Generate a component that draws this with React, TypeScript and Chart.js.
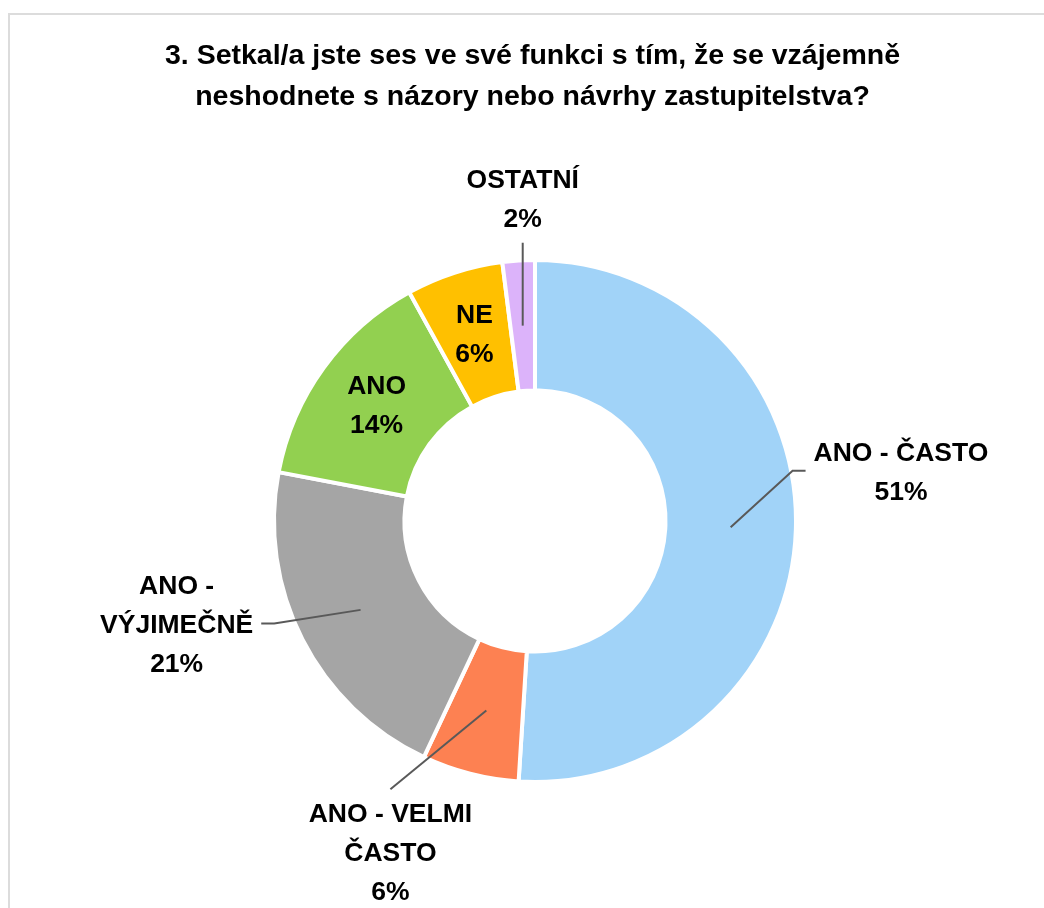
import React, { useEffect, useRef } from 'react';
import { Chart, registerables } from 'chart.js';

Chart.register(...registerables);

const titleLines = [
  '3. Setkal/a jste ses ve své funkci s tím, že se vzájemně',
  'neshodnete s názory nebo návrhy zastupitelstva?',
];

const categories = ['ANO - ČASTO', 'ANO - VELMI ČASTO', 'ANO - VÝJIMEČNĚ', 'ANO', 'NE', 'OSTATNÍ'];
const values = [51, 6, 21, 14, 6, 2];
const colors = ['#A1D3F8', '#FD8152', '#A5A5A5', '#92D050', '#FFC000', '#DCB3FA'];

// how each category name is wrapped in its data label
const labelLines = [
  ['ANO - ČASTO'],
  ['ANO - VELMI', 'ČASTO'],
  ['ANO -', 'VÝJIMEČNĚ'],
  ['ANO'],
  ['NE'],
  ['OSTATNÍ'],
];

// label placement relative to the doughnut centre, in units of the outer radius
type Placement = { kind: 'inside' | 'right' | 'left' | 'below' | 'above'; dx?: number | null; dy?: number };
const labelPlacement: Placement[] = [
  { kind: 'right', dx: 1.402, dy: -0.185 },
  { kind: 'below', dx: -0.554, dy: 1.273 },
  { kind: 'left', dx: -1.373, dy: 0.4 },
  { kind: 'inside' },
  { kind: 'inside' },
  { kind: 'above', dx: null, dy: -1.229 },
];

const FONT = '"Liberation Sans", Arial, sans-serif';

const titlePlugin = {
  id: 'wideTitle',
  afterDraw(chart: any) {
    const ctx: CanvasRenderingContext2D = chart.ctx;
    ctx.save();
    ctx.font = `bold 28.5px ${FONT}`;
    ctx.fillStyle = '#000';
    ctx.textAlign = 'center';
    ctx.textBaseline = 'middle';
    titleLines.forEach((t, k) => ctx.fillText(t, 532.5, 56 + k * 41));
    ctx.restore();
  },
};

const labelPlugin = {
  id: 'sliceLabels',
  afterDatasetsDraw(chart: any) {
    const ctx: CanvasRenderingContext2D = chart.ctx;
    const meta = chart.getDatasetMeta(0);
    const total = values.reduce((a, b) => a + b, 0);
    const LH = 39;
    ctx.save();
    ctx.font = `bold 26.5px ${FONT}`;
    ctx.textAlign = 'center';
    ctx.textBaseline = 'middle';
    meta.data.forEach((arc: any, i: number) => {
      const p = arc.getProps(['x', 'y', 'startAngle', 'endAngle', 'innerRadius', 'outerRadius'], true);
      const mid = (p.startAngle + p.endAngle) / 2;
      const rMid = (p.innerRadius + p.outerRadius) / 2;
      const ax = p.x + Math.cos(mid) * rMid;
      const ay = p.y + Math.sin(mid) * rMid;
      const lines = [...labelLines[i], Math.round((values[i] / total) * 100) + '%'];
      const place = labelPlacement[i];
      let cx = ax;
      let cy = ay;
      if (place.kind !== 'inside') {
        cx = place.dx == null ? ax : p.x + (place.dx as number) * p.outerRadius;
        cy = p.y + (place.dy as number) * p.outerRadius;
      }
      const w = Math.max(...lines.map((l) => ctx.measureText(l).width));
      const top = cy - ((lines.length - 1) * LH) / 2;
      const bottom = cy + ((lines.length - 1) * LH) / 2;
      if (place.kind !== 'inside') {
        ctx.strokeStyle = '#595959';
        ctx.lineWidth = 2;
        ctx.beginPath();
        ctx.moveTo(ax, ay);
        if (place.kind === 'right') {
          const ex = cx - w / 2 - 8;
          const ey = cy - 2;
          ctx.lineTo(ex - 13, ey);
          ctx.lineTo(ex, ey);
        } else if (place.kind === 'left') {
          const ex = cx + w / 2 + 8;
          const ey = cy - 2;
          ctx.lineTo(ex + 13, ey);
          ctx.lineTo(ex, ey);
        } else if (place.kind === 'below') {
          ctx.lineTo(cx, top - 25);
        } else if (place.kind === 'above') {
          ctx.lineTo(cx, bottom + 23);
        }
        ctx.stroke();
      }
      ctx.fillStyle = '#000';
      lines.forEach((l, k) => ctx.fillText(l, cx, top + k * LH));
    });
    ctx.restore();
  },
};

export default function App() {
  const ref = useRef<HTMLCanvasElement>(null);
  useEffect(() => {
    const chart = new Chart(ref.current as HTMLCanvasElement, {
      type: 'doughnut',
      data: {
        labels: categories,
        datasets: [
          {
            data: values,
            backgroundColor: colors,
            borderColor: '#ffffff',
            borderWidth: 4,
          },
        ],
      },
      options: {
        responsive: false,
        animation: false,
        cutout: '50%',
        layout: { padding: { left: 272, right: 246, top: 258, bottom: 124 } },
        plugins: {
          legend: { display: false },
          tooltip: { enabled: false },
          title: { display: false },
        },
      },
      plugins: [labelPlugin, titlePlugin],
    } as any);
    return () => chart.destroy();
  }, []);
  return (
    <div
      style={{
        position: 'fixed',
        left: 0,
        top: 0,
        width: 1044,
        height: 908,
        background: '#fff',
        overflow: 'hidden',
      }}
    >
      <canvas
        ref={ref}
        width={1044}
        height={908}
        style={{ position: 'absolute', left: 0, top: 0, width: 1044, height: 908 }}
      />
      <div
        style={{
          position: 'absolute',
          left: 8,
          top: 13,
          width: 1100,
          height: 1000,
          borderTop: '2px solid #dcdcdc',
          borderLeft: '2px solid #dcdcdc',
          pointerEvents: 'none',
        }}
      />
    </div>
  );
}
